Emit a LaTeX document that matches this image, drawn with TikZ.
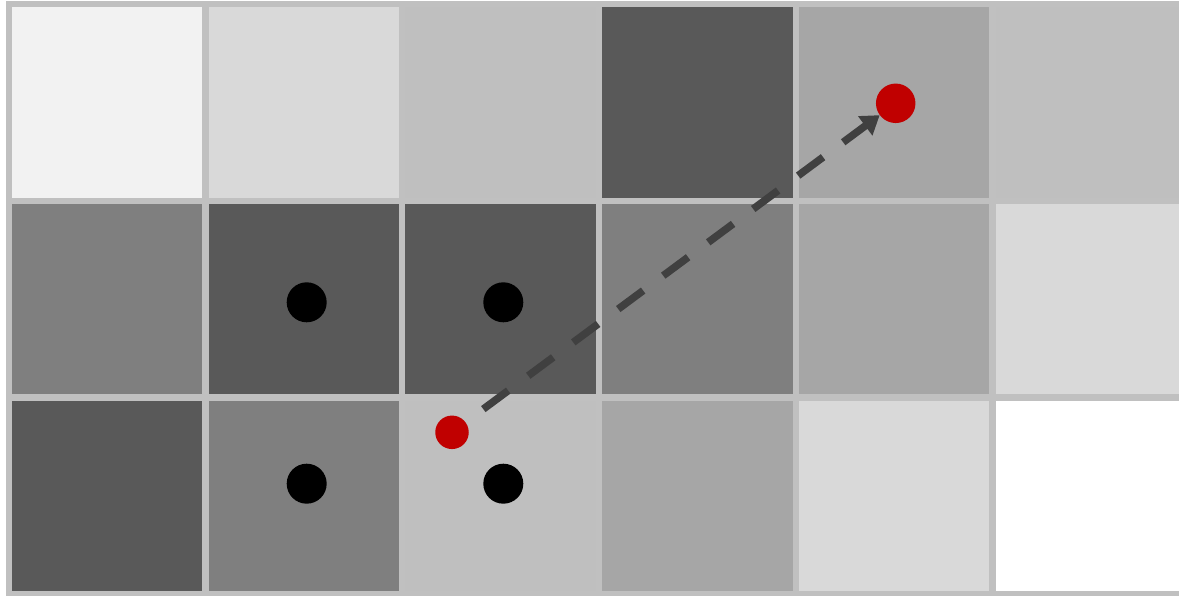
\documentclass[tikz,border=0pt]{standalone}
\usetikzlibrary{arrows.meta}
\definecolor{gA}{HTML}{F2F2F2}
\definecolor{gB}{HTML}{D9D9D9}
\definecolor{gC}{HTML}{BFBFBF}
\definecolor{gD}{HTML}{A6A6A6}
\definecolor{gE}{HTML}{7F7F7F}
\definecolor{gF}{HTML}{595959}
\definecolor{gW}{HTML}{FFFFFF}
\definecolor{gapgray}{HTML}{C0C0C0}
\definecolor{redpt}{HTML}{C00000}
\definecolor{arrowgray}{HTML}{404040}
\tikzset{
  cell/.style={rectangle, minimum size=190.4pt, inner sep=0pt, draw=none},
  blackdot/.style={circle, fill=black, minimum size=40pt, inner sep=0pt, draw=none},
  reddot/.style={circle, fill=redpt, inner sep=0pt, draw=none},
  movearrow/.style={draw=arrowgray, line width=7.5pt, dash pattern=on 31pt off 25pt,
    -{Triangle[length=18pt,width=23pt]}, shorten <=22pt}
}
\begin{document}
\begin{tikzpicture}[x=1pt,y=-1pt]
\useasboundingbox (0,0) rectangle (1179,596);
\fill[white] (0,0) rectangle (1179,596);
\clip (0,0) rectangle (1179,596);
\fill[gapgray] (6,1) rectangle (1190,596);
% row 1
\foreach \c [count=\i from 0] in {gA,gB,gC,gF,gD,gC}
  \node[cell, fill=\c] (r1c\i) at ({107.2+196.7*\i},102.5) {};
% row 2
\foreach \c [count=\i from 0] in {gE,gF,gF,gE,gD,gB}
  \node[cell, fill=\c] (r2c\i) at ({107.2+196.7*\i},299.2) {};
% row 3
\foreach \c [count=\i from 0] in {gF,gE,gC,gD,gB,gW}
  \node[cell, fill=\c] (r3c\i) at ({107.2+196.7*\i},495.9) {};
% black points
\node[blackdot] (b1) at (306.7,302.3) {};
\node[blackdot] (b2) at (503.3,302.3) {};
\node[blackdot] (b3) at (306.7,483.7) {};
\node[blackdot] (b4) at (503.3,483.7) {};
% red points
\node[reddot, minimum size=33.5pt] (s) at (452,432.3) {};
\node[reddot, minimum size=39.5pt] (t) at (895.7,103.3) {};
% arrow
\draw[movearrow] (s) -- (t);
\end{tikzpicture}
\end{document}
